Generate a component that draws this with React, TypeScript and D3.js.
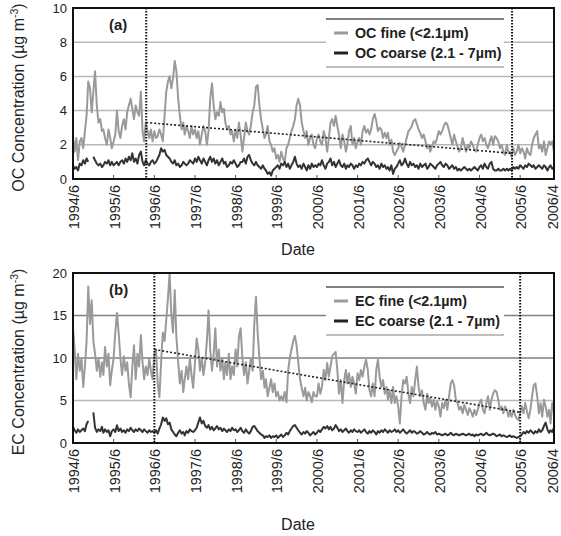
import React, { useRef, useEffect } from 'react';
import * as d3 from 'd3';

// half-monthly samples starting 1994/6 (index 0) to 2006/4 (index 284)
const ocFine = [
  2.4, 1.6, 2.4, 1.1, 2.2, 2.4, 1.8, 2.8, 3.7, 5.7, 5.3, 3.9, 5.1, 6.3, 4.3, 3.3, 3.5, 2.8, 2.9, 2.4, 2.0, 2.9, 2.4, 1.8,
  2.2, 2.6, 4.0, 2.8, 2.4, 3.1, 3.5, 2.9, 3.9, 4.3, 4.7, 4.1, 3.5, 4.3, 3.9, 3.7, 5.1, 2.8, 2.2, 3.3, 2.8, 2.4, 2.9, 2.2,
  2.8, 2.4, 2.5, 2.9, 2.6, 2.2, 3.7, 5.1, 5.7, 6.0, 5.3, 5.9, 6.9, 6.3, 4.7, 3.7, 2.9, 3.3, 2.6, 3.1, 2.8, 2.4, 3.1, 2.6,
  2.9, 2.4, 2.8, 2.0, 2.6, 3.1, 2.8, 2.0, 2.8, 4.7, 5.6, 4.3, 3.5, 3.9, 3.7, 4.5, 3.9, 4.1, 3.3, 2.9, 3.1, 2.6, 2.8, 2.2,
  2.9, 2.4, 3.3, 2.6, 1.6, 2.4, 3.3, 2.8, 2.6, 3.1, 3.9, 4.3, 5.4, 5.5, 4.3, 3.5, 2.9, 2.4, 2.6, 3.1, 2.2, 2.0, 1.6, 1.8,
  1.2, 1.4, 1.0, 1.6, 1.2, 1.0, 1.8, 2.0, 2.4, 2.8, 3.1, 3.5, 4.3, 4.7, 4.3, 3.3, 2.8, 2.4, 2.8, 2.0, 2.4, 2.6, 2.0, 1.8,
  2.4, 2.6, 2.2, 2.0, 2.8, 2.4, 1.6, 2.4, 3.3, 3.5, 3.1, 3.7, 3.1, 2.6, 1.8, 2.6, 2.2, 1.6, 2.0, 2.8, 3.1, 2.0, 2.4, 1.8,
  2.2, 2.4, 2.0, 2.8, 3.1, 2.7, 2.9, 2.6, 2.9, 3.5, 3.8, 3.4, 2.8, 3.0, 2.9, 2.4, 2.7, 2.4, 2.7, 2.0, 2.3, 1.6, 1.4, 1.6,
  1.8, 2.1, 1.9, 1.6, 2.0, 2.4, 2.8, 2.9, 3.1, 3.4, 3.5, 3.2, 2.9, 2.7, 2.4, 2.6, 2.2, 1.8, 2.0, 1.6, 1.9, 2.2, 2.1, 2.4,
  2.8, 2.6, 2.8, 3.1, 3.3, 3.2, 2.8, 2.4, 2.0, 2.6, 2.2, 1.9, 1.6, 1.8, 2.4, 2.0, 1.6, 2.0, 1.8, 2.2, 2.0, 1.7, 1.6, 2.0,
  2.4, 2.6, 2.2, 2.4, 2.0, 1.8, 2.2, 2.5, 2.0, 2.5, 2.4, 2.2, 1.8, 2.0, 1.6, 1.4, 2.0, 1.5, 1.6, 1.3, 1.8, 1.4, 1.6, 2.0,
  1.5, 1.8, 1.6, 1.2, 1.8, 1.5, 1.4, 2.0, 2.4, 2.6, 2.8, 1.8, 2.0, 1.6, 2.2, 1.4, 1.8, 2.2, 2.0, 2.2, 1.6,
];

const ocCoarse = [
  0.8, 0.6, 0.7, 0.5, 0.9, 0.8, 1.1, 0.9, 1.2, 1.0, null, null, 1.3, 1.1, 0.9, 0.8, 0.9, 0.7, 0.8, 1.0, 0.9, 1.1, 0.8, 1.0,
  0.8, 0.9, 1.0, 0.8, 1.0, 1.1, 0.9, 1.2, 1.0, 1.3, 1.1, 1.5, 1.0, 1.2, 0.9, 1.4, 1.6, 1.0, 0.8, 1.1, 0.9, 0.8, 1.0, 1.1,
  0.9, 1.0, 1.2, 1.4, 1.8, 1.6, 1.7, 1.4, 1.3, 1.2, 1.0, 0.9, 1.1, 0.8, 0.9, 0.7, 0.8, 1.0, 0.9, 0.8, 0.9, 1.1, 1.0, 0.9,
  1.2, 1.0, 1.3, 1.1, 0.9, 1.2, 1.0, 0.8, 1.1, 1.3, 1.0, 1.2, 0.9, 1.1, 0.8, 1.0, 1.2, 0.9, 1.0, 0.7, 0.8, 1.0, 0.9, 1.1,
  0.9, 0.7, 0.8, 1.0, 1.0, 1.2, 0.9, 1.3, 1.4, 1.1, 0.9, 0.8, 1.0, 0.8, 0.7, 0.6, 0.8, 0.6, 0.5, 0.3, 0.4, 0.2, 0.5, 0.6,
  0.7, 0.8, 0.6, 0.9, 0.8, 1.0, 0.7, 0.9, 0.6, 0.8, 1.0, 1.3, 0.9, 0.7, 0.8, 0.6, 0.9, 0.7, 0.5, 0.8, 0.6, 0.9, 0.7, 0.8,
  0.7, 0.9, 0.8, 1.1, 0.8, 0.6, 0.9, 1.0, 1.2, 0.8, 1.0, 0.7, 0.9, 1.1, 0.8, 0.7, 0.9, 0.6, 0.8, 0.7, 0.9, 0.8, 0.6, 0.8,
  0.7, 0.9, 0.8, 1.0, 0.9, 1.1, 1.2, 1.0, 0.8, 1.0, 0.9, 0.7, 0.8, 0.6, 0.9, 0.7, 0.8, 0.6, 0.7, 0.5, 0.8, 0.3, 0.6, 0.7,
  0.9, 1.1, 0.8, 0.9, 1.2, 0.9, 0.7, 1.0, 0.8, 0.9, 0.7, 0.8, 0.6, 0.9, 0.7, 0.8, 0.9, 0.6, 0.7, 0.9, 0.8, 0.7, 0.6, 0.8,
  0.9, 1.0, 0.8, 0.7, 0.9, 0.8, 0.6, 0.7, 0.8, 0.6, 0.7, 0.5, 0.6, 0.5, 0.6, 0.7, 0.6, 0.5, 0.6, 0.5, 0.6, 0.7, 0.6, 0.5,
  0.7, 0.8, 0.6, 0.9, 0.7, 0.6, 0.9, 1.0, 0.6, 0.5, 0.5, 0.6, 0.5, 0.5, 0.6, 0.5, 0.6, 0.5, 0.6, 0.5, 0.7, 0.6, 0.7, 0.6,
  0.8, 0.7, 0.6, 0.8, 0.7, 0.9, 0.8, 0.7, 0.8, 0.6, 0.7, 0.8, 0.7, 0.6, 0.8, 0.7, 0.5, 0.7, 0.8, 0.6, 0.7,
];

const ecFine = [
  13.5, 11.0, 7.5, 10.5, 8.5, 10.0, 6.6, 9.0, 12.0, 18.4, 14.0, 16.8, 12.0, 10.5, 8.5, 10.0, 7.8, 9.5, 8.0, 11.3, 9.0, 10.5, 6.8, 8.5,
  10.0, 13.0, 15.3, 13.0, 10.0, 8.0, 10.2, 8.5, 9.5, 7.0, 5.4, 9.0, 11.5, 7.5, 10.5, 9.0, 12.7, 9.5, 7.5, 9.0, 8.0, 10.0, 8.5, 7.5,
  10.5, 11.0, 7.0, 5.4, 9.5, 13.0, 12.0, 14.5, 17.0, 20.0, 15.0, 13.0, 18.0, 12.5, 9.5, 7.0, 8.5, 6.0, 7.5, 9.0, 7.5, 10.0, 8.0, 6.5,
  9.5, 12.3, 11.0, 8.5, 10.0, 8.0, 9.5, 12.0, 15.6, 11.0, 8.5, 10.5, 13.5, 9.0, 11.0, 8.5, 10.0, 7.5, 9.5, 8.0, 10.5, 7.5, 9.0, 8.0,
  11.0, 9.0, 12.5, 13.5, 10.0, 8.0, 9.5, 7.0, 8.5, 10.0, 8.5, 14.0, 17.2, 13.0, 10.0, 7.5, 8.5, 6.5, 7.5, 5.5, 6.5, 7.5, 6.0, 7.0,
  5.5, 6.0, 5.0, 5.5, 5.0, 6.0, 4.8, 8.5, 10.0, 11.0, 12.0, 12.6, 11.5, 9.5, 7.5, 6.5, 5.5, 6.5, 5.0, 6.0, 5.5, 4.8, 6.0, 5.5,
  5.5, 7.0, 5.8, 6.6, 8.6, 7.4, 9.4, 7.8, 9.0, 10.2, 10.5, 10.7, 8.6, 5.8, 7.4, 4.7, 7.4, 8.6, 7.0, 8.2, 6.6, 7.8, 7.0, 5.8,
  8.2, 7.4, 8.6, 7.8, 9.0, 9.8, 8.6, 6.2, 5.5, 7.0, 5.5, 8.6, 9.8, 7.8, 6.6, 7.4, 5.8, 6.6, 5.1, 6.2, 4.7, 6.6, 4.7, 5.5,
  4.3, 2.3, 5.5, 7.4, 7.0, 7.8, 5.8, 4.7, 6.6, 5.5, 7.4, 9.0, 6.6, 5.5, 6.2, 4.7, 3.9, 5.8, 4.7, 5.3, 4.3, 5.1, 3.9, 4.9,
  4.3, 3.1, 4.7, 4.1, 5.1, 3.9, 5.5, 7.0, 7.4, 6.8, 5.1, 4.7, 3.9, 4.3, 3.5, 4.5, 3.9, 3.3, 4.1, 3.7, 3.1, 3.9, 3.3, 3.9,
  4.7, 5.1, 3.9, 3.5, 4.7, 5.5, 3.9, 5.1, 5.8, 6.2, 6.0, 5.1, 3.9, 4.3, 3.5, 4.3, 3.9, 3.1, 3.7, 3.1, 3.9, 3.3, 2.9, 2.7,
  3.5, 4.3, 3.5, 4.7, 3.7, 2.9, 3.9, 5.5, 6.8, 7.0, 5.5, 3.5, 4.7, 3.1, 5.1, 4.3, 3.1, 3.9, 2.3, 4.7, 3.7,
];

const ecCoarse = [
  1.9, 1.5, 1.2, 1.6, 1.3, 1.5, 1.7, 1.4, 2.2, 2.6, null, null, 3.6, 1.8, 1.3, 1.6, 1.4, 1.9, 1.2, 1.6, 1.3, 1.5, 0.8, 1.4,
  1.6, 1.3, 2.1, 1.4, 1.7, 1.3, 1.5, 1.2, 1.6, 1.4, 1.8, 1.5, 1.3, 1.6, 1.4, 1.7, 1.5, 1.3, 1.6, 1.4, 1.2, 1.5, 1.3, 1.4,
  1.2, 1.5, 1.1, 1.7, 2.2, 3.0, 2.6, 2.9, 2.2, 2.4, 1.6, 1.3, 1.0, 0.8, 1.2, 1.5, 1.1, 1.3, 0.9, 1.4, 1.2, 1.6, 1.4, 1.3,
  1.5, 1.8, 2.4, 3.0, 2.3, 2.6, 2.0, 1.8, 2.1, 1.6, 1.9, 1.5, 1.7, 2.0, 1.6, 1.8, 1.4, 1.7, 1.5, 1.3, 1.6, 1.4, 1.8, 1.5,
  1.6, 1.3, 1.5, 1.8, 1.4, 1.2, 1.6, 1.3, 1.1, 1.4, 1.9, 2.0, 1.7, 1.4, 1.2, 1.0, 0.9, 0.6, 0.8, 0.7, 0.9, 0.6, 0.8, 0.7,
  0.9, 0.6, 0.8, 1.0, 0.7, 0.9, 1.2, 1.0, 1.4, 1.7, 2.0, 2.1, 1.8, 1.5, 1.2, 1.0, 1.3, 1.1, 1.4, 1.2, 0.9, 1.1, 1.3, 1.0,
  1.2, 1.5, 1.3, 1.6, 1.9, 1.7, 2.0, 1.6, 1.9, 1.5, 1.7, 2.1, 1.8, 1.4, 1.6, 1.3, 1.5, 1.7, 1.4, 1.2, 1.5, 1.3, 1.6, 1.4,
  1.3, 1.5, 1.2, 1.4, 1.6, 1.3, 1.1, 1.4, 1.2, 1.5, 1.3, 1.0, 1.4, 1.2, 1.5, 1.3, 1.6, 1.4, 1.2, 1.5, 1.3, 1.4, 1.6, 1.3,
  1.5, 1.2, 1.4, 1.6, 1.3, 1.1, 1.3, 1.5, 1.2, 1.4, 1.3, 1.1, 1.2, 1.4, 1.2, 1.0, 1.1, 1.3, 1.1, 1.0, 1.2, 1.1, 1.3, 1.0,
  1.1, 1.0, 0.9, 1.0, 1.1, 0.9, 1.0, 1.2, 1.0, 0.9, 1.1, 1.0, 0.9, 1.0, 1.1, 1.0, 0.9, 1.0, 1.1, 0.9, 1.0, 0.8, 1.0, 0.9,
  1.0, 1.1, 0.9, 1.0, 1.2, 1.0, 0.9, 1.0, 1.1, 1.0, 0.8, 0.9, 1.0, 0.8, 0.9, 0.8, 0.7, 0.8, 0.9, 0.7, 0.8, 0.7, 0.6, 0.7,
  0.8, 1.0, 1.3, 1.1, 1.4, 1.2, 1.5, 1.3, 1.1, 1.4, 1.2, 1.6, 1.3, 1.5, 2.0, 2.4, 1.6, 1.2, 1.5, 1.3, 1.8,
];

const tickLabels = ['1994/6', '1995/6', '1996/6', '1997/6', '1998/6', '1999/6', '2000/6',
  '2001/6', '2002/6', '2003/6', '2004/6', '2005/6', '2006/4'];

// trend segments [date, value] at start and end
const ocTrend = [['1996/3/20', 3.3], ['2005/3/20', 1.5]];
const ecTrend = [['1996/6/1', 11.0], ['2005/6/1', 3.6]];
const ocBreaks = ['1996/3/20', '2005/3/20'];
const ecBreaks = ['1996/6/1', '2005/6/1'];

const FONT = '"Liberation Sans", Arial, sans-serif';

const parseDate = (s) => {
  const p = s.split('/').map(Number);
  return new Date(p[0], p[1] - 1, p[2] || 1);
};
const dateAt = (i) => new Date(1994, 5 + Math.floor(i / 2), i % 2 ? 16 : 1);

const App = () => {
  const svgref = useRef(null);

  const drawPanel = (svg, cfg) => {
    const left = 73, right = 554;
    const x = d3.scaleTime()
      .domain([parseDate('1994/6'), parseDate('2006/4')])
      .range([left, right]);
    const y = d3.scaleLinear().domain([0, cfg.max]).range([cfg.bottom, cfg.top]);

    const g = svg.append('g');

    // gridlines
    g.selectAll('.grid')
      .data(cfg.yTicks.filter(d => d > 0 && d < cfg.max))
      .join('line')
      .attr('x1', left).attr('x2', right)
      .attr('y1', d => y(d)).attr('y2', d => y(d))
      .attr('stroke', d => (cfg.darkGrid.includes(d) ? '#808080' : '#b8b8b8'))
      .attr('stroke-width', 1.5);

    // y tick labels
    g.selectAll('.ylab')
      .data(cfg.yTicks)
      .join('text')
      .attr('x', left - 6)
      .attr('y', d => y(d) + 4.5)
      .attr('text-anchor', 'end')
      .attr('font-family', FONT)
      .attr('font-size', 13)
      .attr('fill', '#222')
      .text(d => d);

    // x ticks + rotated labels
    const tickDates = tickLabels.map(parseDate);
    g.selectAll('.xtick')
      .data(tickDates)
      .join('line')
      .attr('x1', d => x(d)).attr('x2', d => x(d))
      .attr('y1', cfg.bottom).attr('y2', cfg.bottom - 4)
      .attr('stroke', '#555');
    g.selectAll('.xlab')
      .data(tickLabels)
      .join('text')
      .attr('transform', d => `translate(${Math.min(x(parseDate(d)) + 6, 558)}, ${cfg.bottom + 6}) rotate(-90)`)
      .attr('text-anchor', 'end')
      .attr('font-family', FONT)
      .attr('font-size', 14.5)
      .attr('fill', '#222')
      .text(d => d);

    const line = d3.line()
      .defined(d => d.v != null)
      .x(d => x(d.date))
      .y(d => y(d.v));

    const fine = cfg.fine.map((v, i) => ({ date: dateAt(i), v }));
    const coarse = cfg.coarse.map((v, i) => ({ date: dateAt(i), v }));

    g.append('path').datum(fine)
      .attr('d', line).attr('fill', 'none')
      .attr('stroke', '#9a9a9a').attr('stroke-width', 2).attr('stroke-linejoin', 'round');
    g.append('path').datum(coarse)
      .attr('d', line).attr('fill', 'none')
      .attr('stroke', '#333').attr('stroke-width', 2).attr('stroke-linejoin', 'round');

    // trend
    g.append('line')
      .attr('x1', x(parseDate(cfg.trend[0][0]))).attr('y1', y(cfg.trend[0][1]))
      .attr('x2', x(parseDate(cfg.trend[1][0]))).attr('y2', y(cfg.trend[1][1]))
      .attr('stroke', '#222').attr('stroke-width', 1.6).attr('stroke-dasharray', '2,2');

    // period markers
    g.selectAll('.brk')
      .data(cfg.breaks.map(parseDate))
      .join('line')
      .attr('x1', d => x(d)).attr('x2', d => x(d))
      .attr('y1', cfg.top).attr('y2', cfg.bottom)
      .attr('stroke', '#111').attr('stroke-width', 2).attr('stroke-dasharray', '1.5,1.5');

    // frame
    g.append('rect')
      .attr('x', left).attr('y', cfg.top)
      .attr('width', right - left).attr('height', cfg.bottom - cfg.top)
      .attr('fill', 'none').attr('stroke', '#111').attr('stroke-width', 2);

    // panel letter
    g.append('text')
      .attr('x', 109).attr('y', cfg.top + 22)
      .attr('font-family', FONT).attr('font-size', 15).attr('font-weight', 'bold')
      .attr('fill', '#222')
      .text(cfg.letter);

    // legend
    const lg = g.append('g').attr('transform', `translate(326, ${cfg.legendTop})`);
    lg.append('rect').attr('width', 178).attr('height', 48).attr('fill', '#fff');
    lg.append('line').attr('x1', 0).attr('x2', 178).attr('y1', 0).attr('y2', 0)
      .attr('stroke', '#555').attr('stroke-width', 1.5);
    lg.append('line').attr('x1', 0).attr('x2', 178).attr('y1', 48).attr('y2', 48)
      .attr('stroke', '#aaa').attr('stroke-width', 1.5);
    cfg.legend.forEach((item, k) => {
      const yy = 14 + k * 20;
      lg.append('line').attr('x1', 8).attr('x2', 22).attr('y1', yy).attr('y2', yy)
        .attr('stroke', item.color).attr('stroke-width', 3);
      lg.append('text').attr('x', 29).attr('y', yy + 5)
        .attr('font-family', FONT).attr('font-size', 14.3).attr('font-weight', 'bold')
        .attr('fill', '#222').text(item.label);
    });

    // axis titles
    const t = g.append('text')
      .attr('transform', `translate(24, ${(cfg.top + cfg.bottom) / 2 + 4}) rotate(-90)`)
      .attr('text-anchor', 'middle')
      .attr('font-family', FONT).attr('font-size', 16).attr('fill', '#222');
    t.append('tspan').text(`${cfg.name} Concentration (µg m`);
    t.append('tspan').attr('dy', -6).attr('font-size', 10.5).text('-3');
    t.append('tspan').attr('dy', 6).text(')');

    g.append('text')
      .attr('x', 298).attr('y', cfg.dateY)
      .attr('text-anchor', 'middle')
      .attr('font-family', FONT).attr('font-size', 16).attr('fill', '#222')
      .text('Date');
  };

  const drawSvg = () => {
    const svg = d3.select(svgref.current);
    svg.selectAll('*').remove();
    drawPanel(svg, {
      name: 'OC', letter: '(a)', top: 8, bottom: 179, max: 10,
      yTicks: [0, 2, 4, 6, 8, 10], darkGrid: [],
      fine: ocFine, coarse: ocCoarse, trend: ocTrend, breaks: ocBreaks,
      legendTop: 19, dateY: 255,
      legend: [
        { label: 'OC fine (<2.1µm)', color: '#9a9a9a' },
        { label: 'OC coarse (2.1 - 7µm)', color: '#222' },
      ],
    });
    drawPanel(svg, {
      name: 'EC', letter: '(b)', top: 273, bottom: 443, max: 20,
      yTicks: [0, 5, 10, 15, 20], darkGrid: [10, 15],
      fine: ecFine, coarse: ecCoarse, trend: ecTrend, breaks: ecBreaks,
      legendTop: 287, dateY: 530,
      legend: [
        { label: 'EC fine (<2.1µm)', color: '#9a9a9a' },
        { label: 'EC coarse (2.1 - 7µm)', color: '#222' },
      ],
    });
  };

  useEffect(() => {
    drawSvg();
  }, []);

  return (
    <svg ref={svgref} width={561} height={536}
      style={{ position: 'absolute', left: 0, top: 0, background: '#fff' }} />
  );
};

export default App;
